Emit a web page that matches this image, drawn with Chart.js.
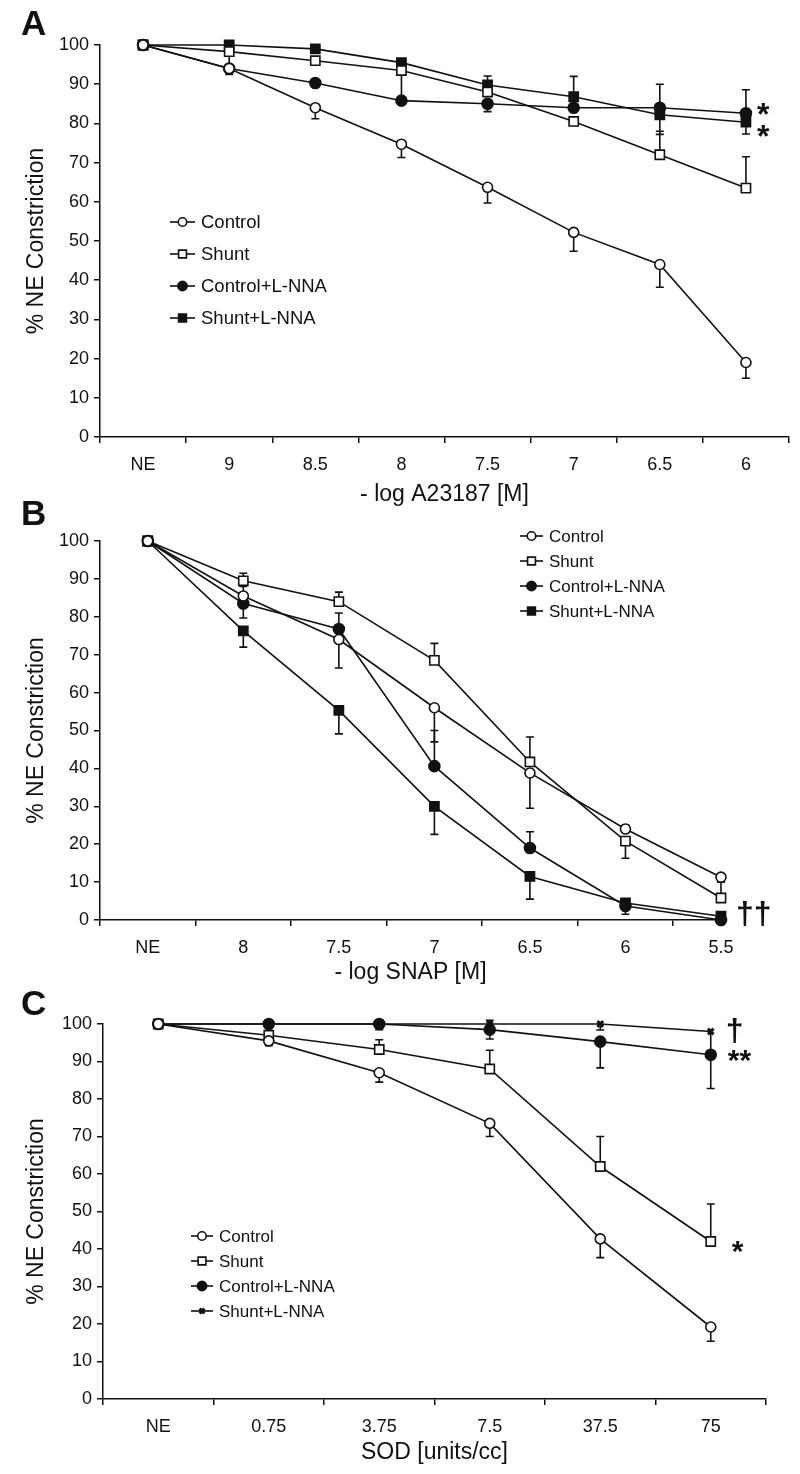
<!DOCTYPE html>
<html>
<head>
<meta charset="utf-8">
<script src="https://cdn.jsdelivr.net/npm/chart.js@4.4.1/dist/chart.umd.min.js"></script>
<style>
  body { margin: 0; background: #fff; }
  .panel { position: absolute; left: 0; width: 800px; }
</style>
</head>
<body>
<div class="panel" style="top:0"><canvas id="chartA" width="800" height="510"></canvas></div>
<div class="panel" style="top:490px"><canvas id="chartB" width="800" height="500"></canvas></div>
<div class="panel" style="top:980px"><canvas id="chartC" width="800" height="494"></canvas></div>
<script>
// series names shared by the three panels
const seriesNames = ['Control', 'Shunt', 'Control+L-NNA', 'Shunt+L-NNA'];
const yTicks = [0, 10, 20, 30, 40, 50, 60, 70, 80, 90, 100];

// panel A: - log A23187 [M]
const labelsA = ['NE', '9', '8.5', '8', '7.5', '7', '6.5', '6'];
const controlA = [100, 94, 84, 74.7, 63.7, 52.2, 44, 19];
const shuntA = [100, 98.3, 96, 93.5, 88, 80.5, 72, 63.5];
const controlNnaA = [100, 94, 90.3, 85.8, 85, 84, 84, 82.6];
const shuntNnaA = [100, 100, 99, 95.5, 89.8, 86.8, 82.2, 80.3];
const errControlA = [0, 0, -2.8, -3.4, -4, -4.8, -5.8, -4];
const errShuntA = [0, -5, 0, 0, 0, 0, 6, 8];
const errControlNnaA = [0, -1.5, 0, 7.5, -2, 0, 6, 6];
const errShuntNnaA = [0, 0, 1, 0, 2.3, 5.2, -5, -3];

// panel B: - log SNAP [M]
const labelsB = ['NE', '8', '7.5', '7', '6.5', '6', '5.5'];
const controlB = [100, 85.5, 74, 56, 38.8, 24, 11.3];
const shuntB = [100, 89.5, 84, 68.5, 41.7, 20.8, 5.8];
const controlNnaB = [100, 83.5, 76.8, 40.6, 19, 3.7, 0];
const shuntNnaB = [100, 76.3, 55.3, 30, 11.5, 4.5, 1];
const errControlB = [0, 2.5, -7.5, -9, -9.3, 1, 0];
const errShuntB = [0, 2, 2.5, 4.5, 6.6, -4.5, 4.2];
const errControlNnaB = [0, -3.8, 4.2, 9.4, 4.3, -2.2, 0];
const errShuntNnaB = [0, -4.3, -6.2, -7.4, -6, 0, 0];

// panel C: SOD [units/cc]
const labelsC = ['NE', '0.75', '3.75', '7.5', '37.5', '75'];
const controlC = [100, 95.5, 87, 73.5, 42.7, 19.2];
const shuntC = [100, 97, 93.2, 88, 62, 42];
const controlNnaC = [100, 100, 100, 98.5, 95.3, 91.8];
const shuntNnaC = [100, 100, 100, 100, 100, 98];
const errControlC = [0, -1.3, -2.5, -3.5, -5, -3.8];
const errShuntC = [0, 0, 2.6, 5, 8, 10];
const errControlNnaC = [0, 0, -1.5, -2.5, -7, -9];
const errShuntNnaC = [0, 0, 0, 1, -1.6, -6];

const INK = '#111';
const FONT = '"Liberation Sans", Arial, sans-serif';
Chart.defaults.font.family = FONT;
Chart.defaults.color = INK;

const markers = [
  { pointStyle: 'circle', radius: 5, fill: '#fff' },
  { pointStyle: 'rect', radius: 6.5, fill: '#fff' },
  { pointStyle: 'circle', radius: 5.5, fill: INK },
  { pointStyle: 'rect', radius: 6.5, fill: INK }
];

function toPoints(values) {
  return values.map((v, i) => ({ x: i, y: v }));
}

function makeDataset(i, values, errors, markerOverride) {
  const m = Object.assign({}, markers[i], markerOverride || {});
  return {
    label: seriesNames[i],
    data: toPoints(values),
    errors: errors,
    borderColor: INK,
    borderWidth: 1.6,
    tension: 0,
    clip: false,
    pointStyle: m.pointStyle,
    pointRadius: m.radius,
    pointBackgroundColor: m.fill,
    pointBorderColor: INK,
    pointBorderWidth: m.borderWidth || 1.6
  };
}

// error bars drawn under the markers
const errorBars = {
  id: 'errorBars',
  beforeDatasetsDraw(chart) {
    const ctx = chart.ctx;
    const ys = chart.scales.y;
    chart.data.datasets.forEach((ds, di) => {
      if (!ds.errors) return;
      const meta = chart.getDatasetMeta(di);
      ds.errors.forEach((e, i) => {
        if (!e) return;
        const pt = meta.data[i];
        const y2 = ys.getPixelForValue(ds.data[i].y + e);
        ctx.save();
        ctx.strokeStyle = INK;
        ctx.lineWidth = 1.6;
        ctx.beginPath();
        ctx.moveTo(pt.x, pt.y);
        ctx.lineTo(pt.x, y2);
        ctx.moveTo(pt.x - 4, y2);
        ctx.lineTo(pt.x + 4, y2);
        ctx.stroke();
        ctx.restore();
      });
    });
  }
};

// panel letter, inset legend, significance marks
const decor = {
  id: 'decor',
  afterDraw(chart, args, opts) {
    const ctx = chart.ctx;
    ctx.save();
    ctx.fillStyle = INK;
    ctx.font = 'bold 35px ' + FONT;
    ctx.textBaseline = 'alphabetic';
    ctx.textAlign = 'left';
    ctx.fillText(opts.letter, 21, 35);

    const lg = opts.legend;
    chart.data.datasets.forEach((ds, i) => {
      const y = lg.y + i * lg.gap;
      ctx.strokeStyle = INK;
      ctx.lineWidth = 1.6;
      ctx.beginPath();
      ctx.moveTo(lg.x, y);
      ctx.lineTo(lg.x + lg.len, y);
      ctx.stroke();
      ctx.fillStyle = ds.pointBackgroundColor;
      ctx.lineWidth = ds.pointBorderWidth;
      Chart.helpers.drawPoint(ctx, {
        pointStyle: ds.pointStyle,
        radius: ds.pointRadius * 0.85,
        borderWidth: ds.pointBorderWidth,
        rotation: 0
      }, lg.x + lg.len / 2, y);
      ctx.fillStyle = INK;
      ctx.font = lg.size + 'px ' + FONT;
      ctx.textBaseline = 'middle';
      ctx.fillText(ds.label, lg.x + lg.len + 6, y + 1);
    });

    (opts.notes || []).forEach(n => {
      const pt = chart.getDatasetMeta(n.ds).data[n.idx];
      ctx.fillStyle = INK;
      ctx.font = n.font + ' ' + FONT;
      ctx.textBaseline = 'middle';
      ctx.textAlign = 'left';
      ctx.fillText(n.text, pt.x + n.dx, pt.y + n.dy);
    });
    ctx.restore();
  }
};

function makePanel(id, p) {
  new Chart(document.getElementById(id), {
    type: 'line',
    data: { datasets: p.datasets },
    plugins: [errorBars, decor],
    options: {
      responsive: false,
      animation: false,
      layout: { padding: { top: p.top, right: p.right, bottom: 0, left: 0 } },
      plugins: {
        legend: { display: false },
        tooltip: { enabled: false },
        decor: { letter: p.letter, legend: p.legend, notes: p.notes }
      },
      scales: {
        x: {
          type: 'linear',
          min: -0.5,
          max: p.xMax,
          ticks: {
            stepSize: 0.5,
            autoSkip: false,
            maxRotation: 0,
            padding: 11,
            color: INK,
            font: { size: 18 },
            callback: v => Number.isInteger(v) ? p.labels[v] : ''
          },
          grid: {
            drawOnChartArea: false,
            drawTicks: true,
            tickLength: 6,
            lineWidth: 1.5,
            color: c => (c.tick && !Number.isInteger(c.tick.value)) ? INK : 'rgba(0,0,0,0)'
          },
          border: { color: INK, width: 1.5 },
          title: {
            display: true,
            text: p.xTitle,
            color: INK,
            font: { size: 23 },
            padding: { top: 0, bottom: p.titlePad }
          },
          afterFit: s => { s.height = p.xHeight; }
        },
        y: {
          min: 0,
          max: 100,
          afterBuildTicks: s => { s.ticks = yTicks.map(v => ({ value: v })); },
          ticks: { padding: 5, color: INK, font: { size: 18 } },
          grid: { drawOnChartArea: false, drawTicks: true, tickLength: 6, lineWidth: 1.5, color: INK },
          border: { color: INK, width: 1.5 },
          title: {
            display: true,
            text: '% NE Constriction',
            color: INK,
            font: { size: 23 },
            padding: { top: 23, bottom: 0 }
          },
          afterFit: s => { s.width = p.yWidth; }
        }
      }
    }
  });
}

makePanel('chartA', {
  letter: 'A',
  labels: labelsA,
  xMax: labelsA.length - 0.5,
  xTitle: '- log A23187 [M]',
  top: 45, right: 11, xHeight: 73, yWidth: 100, titlePad: 2,
  datasets: [
    makeDataset(0, controlA, errControlA),
    makeDataset(1, shuntA, errShuntA),
    makeDataset(2, controlNnaA, errControlNnaA),
    makeDataset(3, shuntNnaA, errShuntNnaA)
  ],
  legend: { x: 170, y: 222, gap: 32, len: 25, size: 18.5 },
  notes: [
    { ds: 2, idx: 7, text: '*', dx: 11, dy: 3, font: 'bold 32px' },
    { ds: 3, idx: 7, text: '*', dx: 11, dy: 16, font: 'bold 32px' }
  ]
});

makePanel('chartB', {
  letter: 'B',
  labels: labelsB,
  xMax: labelsB.length - 1,
  xTitle: '- log SNAP [M]',
  top: 51, right: 79, xHeight: 70, yWidth: 100, titlePad: 4,
  datasets: [
    makeDataset(0, controlB, errControlB),
    makeDataset(1, shuntB, errShuntB),
    makeDataset(2, controlNnaB, errControlNnaB),
    makeDataset(3, shuntNnaB, errShuntNnaB)
  ],
  legend: { x: 520, y: 46, gap: 25, len: 23, size: 17 },
  notes: [
    { ds: 3, idx: 6, text: '\u2020\u2020', dx: 15, dy: -1, font: 'bold 32px' }
  ]
});

makePanel('chartC', {
  letter: 'C',
  labels: labelsC,
  xMax: labelsC.length - 0.5,
  xTitle: 'SOD [units/cc]',
  top: 44, right: 34, xHeight: 75, yWidth: 103, titlePad: 8,
  datasets: [
    makeDataset(0, controlC, errControlC),
    makeDataset(1, shuntC, errShuntC),
    makeDataset(2, controlNnaC, errControlNnaC),
    makeDataset(3, shuntNnaC, errShuntNnaC, { pointStyle: 'crossRot', radius: 4, borderWidth: 3 })
  ],
  legend: { x: 191, y: 256, gap: 25, len: 22, size: 17 },
  notes: [
    { ds: 3, idx: 5, text: '\u2020', dx: 15, dy: 1, font: 'bold 32px' },
    { ds: 2, idx: 5, text: '**', dx: 17, dy: 7, font: 'bold 30px' },
    { ds: 1, idx: 5, text: '*', dx: 21, dy: 11, font: 'bold 30px' }
  ]
});
</script>
</body>
</html>
